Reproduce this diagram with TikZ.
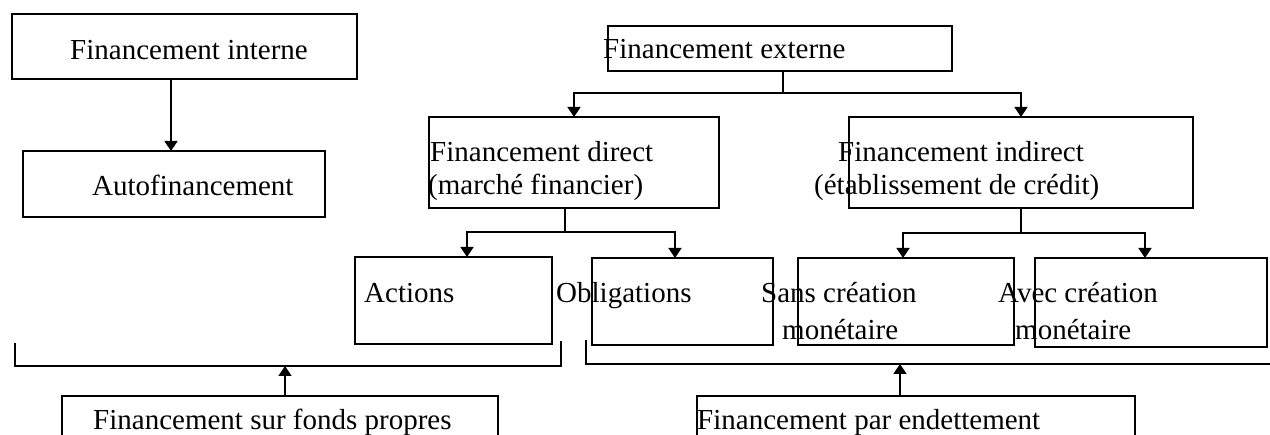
\documentclass[tikz,border=0pt]{standalone}
\usepackage{fontspec}
\setmainfont{Liberation Serif}
\usetikzlibrary{arrows.meta}
\begin{document}
\begin{tikzpicture}[x=1pt,y=-1pt,
  box/.style={draw,line width=1.6pt,inner sep=0pt,outer sep=0pt},
  txt/.style={anchor=base west,inner sep=0pt,font=\fontsize{29}{33}\selectfont},
  conn/.style={line width=1.6pt},
  arr/.style={line width=1.6pt,-{Triangle[width=13pt,length=10pt]}}]
\useasboundingbox (0,0) rectangle (1270,435);
\clip (0,0) rectangle (1270,435);
% boxes
\node[box,minimum width=345pt,minimum height=65pt] (fi) at (184.5,46.5) {};
\node[box,minimum width=302pt,minimum height=66pt] (af) at (174,184) {};
\node[box,minimum width=344pt,minimum height=45pt] (fe) at (780,48.5) {};
\node[box,minimum width=290pt,minimum height=91pt] (fd) at (574,162.5) {};
\node[box,minimum width=344pt,minimum height=91pt] (fid) at (1021,162.5) {};
\node[box,minimum width=197pt,minimum height=87pt] (act) at (453.5,300.5) {};
\node[box,minimum width=181pt,minimum height=87pt] (obl) at (682.5,301.5) {};
\node[box,minimum width=216pt,minimum height=87pt] (sans) at (906,301.5) {};
\node[box,minimum width=232pt,minimum height=89pt] (avec) at (1151,302.5) {};
\node[box,minimum width=436pt,minimum height=74pt] (fp) at (280,433) {};
\node[box,minimum width=438pt,minimum height=74pt] (pe) at (916,433) {};
% texts
\node[txt] (tfi) at (70,60) {Financement interne};
\node[txt] (taf) at (92,196) {Autofinancement};
\node[txt] (tfe) at (603,59) {Financement externe};
\node[txt] (tfd1) at (430,162) {Financement direct};
\node[txt] (tfd2) at (428,195) {(marché financier)};
\node[txt] (tfid1) at (838,162) {Financement indirect};
\node[txt] (tfid2) at (814,195) {(établissement de crédit)};
\node[txt] (tact) at (364,303) {Actions};
\node[txt] (tobl) at (556,303) {Obligations};
\node[txt] (tsans1) at (761,303) {Sans création};
\node[txt] (tsans2) at (782,340) {monétaire};
\node[txt] (tavec1) at (998,303) {Avec création};
\node[txt] (tavec2) at (1015,340) {monétaire};
\node[txt] (tfp) at (93,430) {Financement sur fonds propres};
\node[txt] (tpe) at (697,430) {Financement par endettement};
% helper x positions
\coordinate (x171) at (171,0);
\coordinate (x783) at (783,0);
\coordinate (x565) at (565,0);
\coordinate (x467) at (467,0);
\coordinate (x675) at (675,0);
\coordinate (x903) at (903,0);
\coordinate (x1145) at (1145,0);
\coordinate (x285) at (285,0);
\coordinate (x900) at (900,0);
% connectors
\draw[arr] (fi.south -| x171) -- (af.north -| x171);
\draw[conn] (fe.south -| x783) -- ++(0,22) coordinate (j0);
\draw[arr] (j0) -| (fd.north);
\draw[arr] (j0) -| (fid.north);
\draw[conn] (fd.south -| x565) -- ++(0,24) coordinate (j1);
\draw[arr] (j1) -| (act.north -| x467);
\draw[arr] (j1) -| (obl.north -| x675);
\draw[conn] (fid.south) -- ++(0,25) coordinate (j2);
\draw[arr] (j2) -| (sans.north -| x903);
\draw[arr] (j2) -| (avec.north -| x1145);
% brackets
\coordinate (bl1) at (15,343);
\coordinate (bl2) at (15,366);
\coordinate (bl3) at (561,366);
\coordinate (bl4) at (561,341);
\draw[conn] (bl1) -- (bl2) -- (bl3) -- (bl4);
\draw[arr] (fp.north -| x285) -- (bl2 -| x285);
\coordinate (br1) at (586,340);
\coordinate (br2) at (586,364);
\coordinate (br3) at (1272,364);
\draw[conn] (br1) -- (br2) -- (br3);
\draw[arr] (pe.north -| x900) -- (br2 -| x900);
\end{tikzpicture}
\end{document}
